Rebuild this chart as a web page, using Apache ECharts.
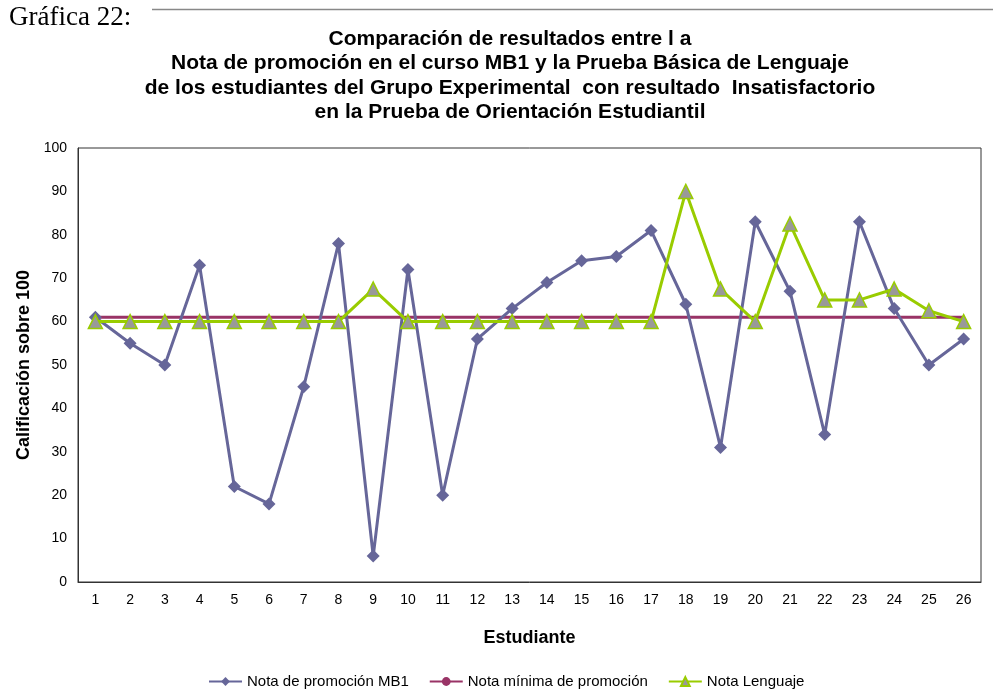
<!DOCTYPE html>
<html>
<head>
<meta charset="utf-8">
<script src="https://cdn.jsdelivr.net/npm/echarts@6/dist/echarts.min.js"></script>
<style>
html,body{margin:0;padding:0;background:#fff;}
#chart{width:993px;height:698px;}
</style>
</head>
<body>
<div id="chart"></div>
<script>
// datos
var estudiantes = ['1','2','3','4','5','6','7','8','9','10','11','12','13','14','15','16','17','18','19','20','21','22','23','24','25','26'];
var notaMB1 = [61,55,50,73,22,18,45,78,6,72,20,56,63,69,74,75,81,64,31,83,67,34,83,63,50,56];
var notaMinima = [61,61,61,61,61,61,61,61,61,61,61,61,61,61,61,61,61,61,61,61,61,61,61,61,61,61];
var notaLenguaje = [60,60,60,60,60,60,60,60,67.5,60,60,60,60,60,60,60,60,90,67.5,60,82.5,65,65,67.5,62.5,60];
var nombres = ['Nota de promoción MB1','Nota mínima de promoción','Nota Lenguaje'];

var myChart = echarts.init(document.getElementById('chart'));
var option = {
	backgroundColor:'#fff',
	textStyle:{fontFamily:'"Liberation Sans", Arial, sans-serif'},
	title:{
		text:'Comparación de resultados entre l a\nNota de promoción en el curso MB1 y la Prueba Básica de Lenguaje\nde los estudiantes del Grupo Experimental  con resultado  Insatisfactorio\nen la Prueba de Orientación Estudiantil',
		left:505,
		top:22,
		textAlign:'center',
		textStyle:{fontSize:21,fontWeight:'bold',color:'#000',lineHeight:24.3,fontFamily:'"Liberation Sans", Arial, sans-serif'}
	},
	graphic:[
		{type:'text',left:9,top:4,style:{text:'Gráfica 22:',font:'27px "Liberation Serif", "Times New Roman", serif',fill:'#000'}},
		{type:'line',shape:{x1:152,y1:9.5,x2:993,y2:9.5},style:{stroke:'#888',lineWidth:1.5}}
	],
	legend:{
		data:nombres,
		left:203,
		top:669,
		itemWidth:33,
		itemHeight:11,
		itemGap:20,
		textStyle:{fontSize:15,color:'#000'}
	},
	grid:{left:78,right:12,top:148,bottom:116,show:true,borderColor:'#333',borderWidth:1},
	xAxis:{
		type:'category',
		data:estudiantes,
		name:'Estudiante',
		nameLocation:'middle',
		nameGap:47,
		nameTextStyle:{fontSize:18,fontWeight:'bold',color:'#000'},
		axisLine:{lineStyle:{color:'#333'}},
		axisTick:{show:false},
		axisLabel:{fontSize:14,color:'#000',margin:11}
	},
	yAxis:{
		type:'value',
		min:0,
		max:100,
		interval:10,
		name:'Calificación sobre 100',
		nameLocation:'middle',
		nameGap:40,
		nameTextStyle:{fontSize:18,fontWeight:'bold',color:'#000'},
		axisLine:{show:true,lineStyle:{color:'#333'}},
		axisTick:{show:false},
		splitLine:{show:false},
		axisLabel:{fontSize:14,color:'#000',margin:11}
	},
	series:[
		{
			name:nombres[0],
			type:'line',
			data:notaMB1,
			symbol:'diamond',
			symbolSize:13,
			lineStyle:{color:'#666699',width:3},
			itemStyle:{color:'#666699'},
			z:3
		},
		{
			name:nombres[1],
			type:'line',
			data:notaMinima,
			showSymbol:false,
			symbol:'none',
			lineStyle:{color:'#993366',width:3},
			itemStyle:{color:'#993366'},
			z:2
		},
		{
			name:nombres[2],
			type:'line',
			data:notaLenguaje,
			symbol:'triangle',
			symbolSize:14,
			lineStyle:{color:'#99cc00',width:3},
			itemStyle:{color:'#999999',borderColor:'#99cc00',borderWidth:1.5},
			z:4
		}
	]
};
myChart.setOption(option);
</script>
</body>
</html>
